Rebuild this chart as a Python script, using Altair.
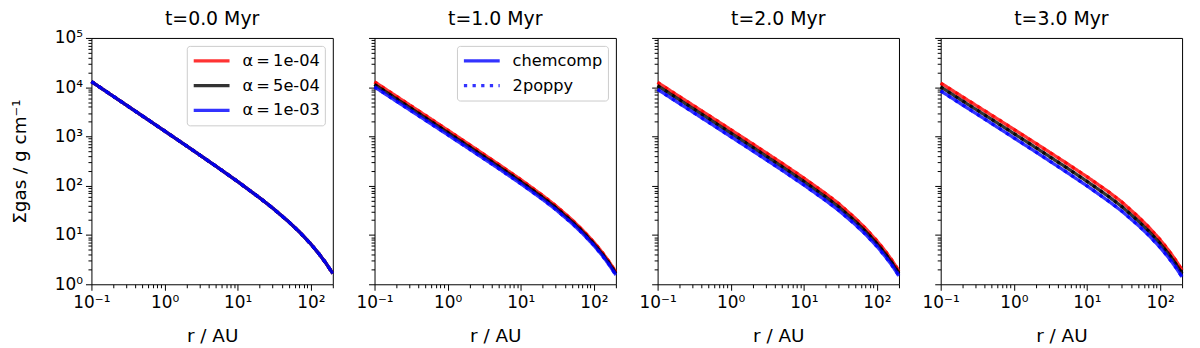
import altair as alt
import pandas as pd

# ---------------- data ----------------
r_au = [0.1, 0.2, 0.5, 1, 2, 5, 10, 20, 30, 50, 70, 100, 130, 160, 200]

# log10(Sigma_gas) at the radii above
log_sig_t0 = [4.115, 3.813, 3.415, 3.112, 2.808, 2.401, 2.085, 1.754, 1.549, 1.267, 1.062, 0.818, 0.614, 0.435, 0.219]
log_sig_t1_a1 = [4.110, 3.815, 3.426, 3.130, 2.832, 2.434, 2.125, 1.801, 1.598, 1.311, 1.102, 0.855, 0.648, 0.467, 0.249]
log_sig_t1_a2 = [4.055, 3.762, 3.375, 3.081, 2.785, 2.390, 2.083, 1.760, 1.559, 1.274, 1.067, 0.821, 0.616, 0.436, 0.219]
log_sig_t1_a3 = [4.005, 3.713, 3.328, 3.035, 2.741, 2.347, 2.041, 1.720, 1.519, 1.237, 1.032, 0.788, 0.584, 0.405, 0.189]
log_sig_t2_a1 = [4.097, 3.808, 3.428, 3.139, 2.848, 2.459, 2.156, 1.838, 1.637, 1.345, 1.133, 0.882, 0.673, 0.489, 0.269]
log_sig_t2_a2 = [4.030, 3.741, 3.360, 3.070, 2.779, 2.389, 2.086, 1.768, 1.568, 1.281, 1.072, 0.825, 0.618, 0.437, 0.219]
log_sig_t2_a3 = [3.955, 3.667, 3.287, 2.997, 2.707, 2.318, 2.016, 1.698, 1.499, 1.217, 1.012, 0.768, 0.564, 0.385, 0.169]
log_sig_t3_a1 = [4.085, 3.802, 3.430, 3.146, 2.861, 2.479, 2.183, 1.871, 1.671, 1.375, 1.161, 0.907, 0.696, 0.511, 0.289]
log_sig_t3_a2 = [4.005, 3.720, 3.345, 3.060, 2.773, 2.389, 2.090, 1.777, 1.577, 1.288, 1.078, 0.828, 0.620, 0.438, 0.219]
log_sig_t3_a3 = [3.925, 3.638, 3.261, 2.973, 2.685, 2.298, 1.998, 1.682, 1.484, 1.200, 0.995, 0.750, 0.545, 0.366, 0.149]

titles = ["t=0.0 Myr", "t=1.0 Myr", "t=2.0 Myr", "t=3.0 Myr"]
alpha_labels = ["α\u2009=\u20091e-04", "α\u2009=\u20095e-04", "α\u2009=\u20091e-03"]
model_labels = ["chemcomp", "2poppy"]
alpha_colors = ["red", "black", "blue"]

x_major = [0.1, 1, 10, 100]
x_major_labels = ["10⁻¹", "10⁰", "10¹", "10²"]
x_minor = [0.2, 0.3, 0.4, 0.5, 0.6, 0.7, 0.8, 0.9,
           2, 3, 4, 5, 6, 7, 8, 9,
           20, 30, 40, 50, 60, 70, 80, 90, 200]
y_major = [1, 10, 100, 1000, 10000, 100000]
y_major_labels = ["10⁰", "10¹", "10²", "10³", "10⁴", "10⁵"]
y_minor = [m * d for d in [1, 10, 100, 1000, 10000] for m in range(2, 10)]

series = {
    titles[0]: [log_sig_t0, log_sig_t0, log_sig_t0],
    titles[1]: [log_sig_t1_a1, log_sig_t1_a2, log_sig_t1_a3],
    titles[2]: [log_sig_t2_a1, log_sig_t2_a2, log_sig_t2_a3],
    titles[3]: [log_sig_t3_a1, log_sig_t3_a2, log_sig_t3_a3],
}

rows = []
for t in titles:
    for a, vals in zip(alpha_labels, series[t]):
        for m in model_labels:
            for r, v in zip(r_au, vals):
                rows.append({"panel": t, "alpha": a, "model": m, "r": r, "sigma": 10 ** v})
df = pd.DataFrame(rows)

# ---------------- styling ----------------
FONT = "DejaVu Sans"
TICK_FS = 17
LAB_FS = 18.5
TITLE_FS = 19
LEG_FS = 16.3
W, H = 243, 248
LW = 3.3


def label_expr(vals, labels):
    e = "''"
    for v, l in reversed(list(zip(vals, labels))):
        e = f"datum.value == {v} ? '{l}' : ({e})"
    return e


xscale = alt.Scale(type="log", domain=[0.1, 200], nice=False)
yscale = alt.Scale(type="log", domain=[1, 100000], nice=False)
cscale = alt.Scale(domain=alpha_labels, range=alpha_colors)
dscale = alt.Scale(domain=model_labels, range=[[1, 0], [3.3, 5.4]])

common_legend = dict(
    title=None, orient="top-right", offset=8, symbolType="stroke",
    symbolSize=1300, symbolStrokeWidth=LW, symbolOpacity=0.8, clipHeight=20,
    rowPadding=5, labelOffset=11, labelFontSize=LEG_FS, labelFont=FONT,
    labelColor="black", padding=5, strokeColor="#cccccc", fillColor="white",
    cornerRadius=3, labelLimit=300,
)
clegend = alt.Legend(**common_legend)
dlegend = alt.Legend(symbolStrokeColor="blue", **common_legend)


def x_axis_major():
    return alt.Axis(values=x_major, labelExpr=label_expr(x_major, x_major_labels),
                    tickSize=6, title="r / AU", grid=False, domain=False, orient="bottom",
                    labelFontSize=TICK_FS, titleFontSize=LAB_FS, labelPadding=4, titlePadding=17,
                    labelFlush=False, labelOverlap=False)


def x_axis_minor():
    return alt.Axis(values=x_minor, labels=False, tickSize=3.5, title=None,
                    grid=False, domain=False, orient="bottom")


def y_axis_major(first):
    if first:
        return alt.Axis(values=y_major, labelExpr=label_expr(y_major, y_major_labels),
                        tickSize=6, title="Σgas / g cm⁻¹", grid=False, domain=False,
                        orient="left", labelFontSize=TICK_FS, titleFontSize=LAB_FS,
                        labelPadding=3, titlePadding=25, labelFlush=False, labelOverlap=False)
    return alt.Axis(values=y_major, labels=False, tickSize=6, title=None,
                    grid=False, domain=False, orient="left")


def y_axis_minor():
    return alt.Axis(values=y_minor, labels=False, tickSize=3.5, title=None,
                    grid=False, domain=False, orient="left")


def panel(i):
    t = titles[i]
    layers = []
    n = 0
    for a in alpha_labels:
        for m in model_labels:
            d = df[(df.panel == t) & (df.alpha == a) & (df.model == m)]
            if n == 0:
                xa, ya = x_axis_major(), y_axis_major(i == 0)
            elif n == 1:
                xa, ya = x_axis_minor(), y_axis_minor()
            else:
                xa, ya = None, None
            layers.append(
                alt.Chart(d).mark_line(strokeWidth=LW, opacity=0.8).encode(
                    x=alt.X("r:Q", scale=xscale, axis=xa),
                    y=alt.Y("sigma:Q", scale=yscale, axis=ya),
                    color=alt.Color("alpha:N", scale=cscale,
                                    legend=clegend if i == 0 else None),
                    strokeDash=alt.StrokeDash("model:N", scale=dscale,
                                              legend=dlegend if i == 1 else None),
                )
            )
            n += 1
    # panel 1's top y label sticks out above the frame, so its title needs less offset
    off = 0.5 if i == 0 else 9
    return (
        alt.layer(*layers)
        .resolve_axis(x="independent", y="independent")
        .properties(
            width=W, height=H,
            title=alt.TitleParams(t, fontSize=TITLE_FS, font=FONT, fontWeight="normal",
                                  color="black", anchor="middle", frame="group", offset=off),
        )
    )


chart = (
    alt.hconcat(*[panel(i) for i in range(4)], spacing=42, bounds="flush")
    .resolve_scale(color="independent", strokeDash="independent")
    .properties(padding={"left": 2, "top": 0, "right": 2, "bottom": 0})
    .configure(font=FONT)
    .configure_view(stroke="black", strokeWidth=1)
    .configure_axis(tickColor="black", labelColor="black", titleColor="black",
                    tickWidth=1, labelFont=FONT, titleFont=FONT, titleFontWeight="normal")
)

chart.save("out.html", embed_options={"renderer": "svg", "actions": False})
